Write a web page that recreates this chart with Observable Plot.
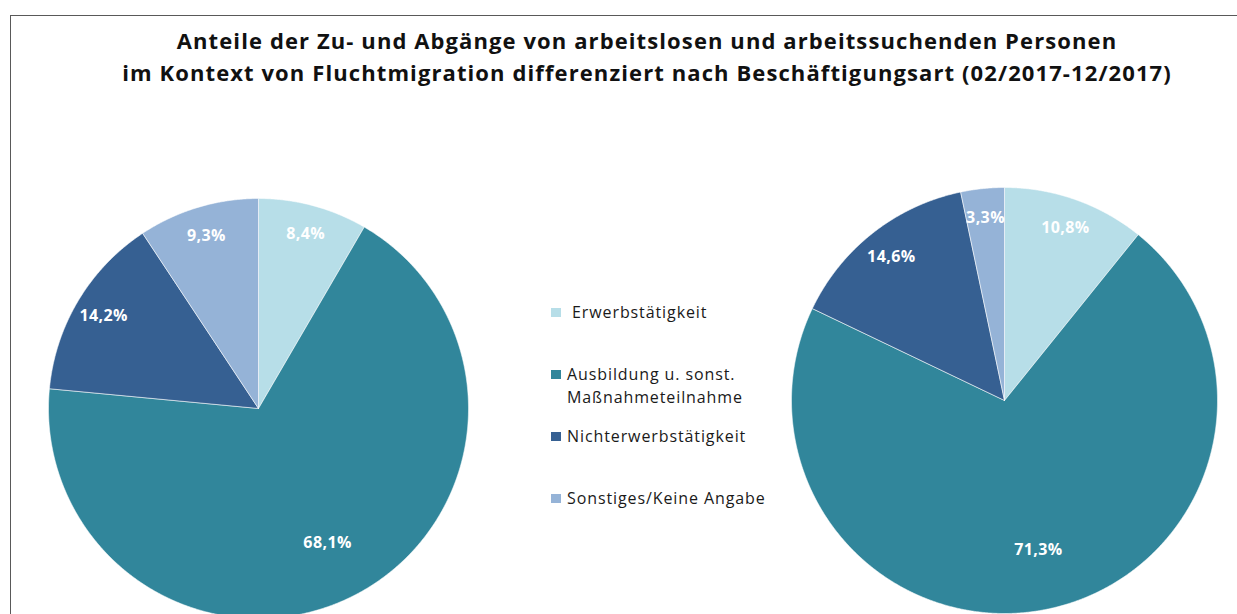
<!DOCTYPE html>
<html>
<head>
<meta charset="utf-8">
<script src="https://cdn.jsdelivr.net/npm/d3@7"></script>
<script src="https://cdn.jsdelivr.net/npm/@observablehq/plot@0.6"></script>
<style>
  html, body { margin: 0; padding: 0; background: #fff; }
  #chart { position: relative; width: 1237px; height: 614px; overflow: hidden; font-family: "Open Sans", sans-serif; background: #fff; }
  #frame { position: absolute; left: 10px; top: 15px; width: 1400px; height: 800px; border-left: 1.5px solid #595959; border-top: 1.5px solid #595959; box-sizing: border-box; }
  #title { position: absolute; left: 0; top: 24px; width: 1294px; text-align: center; font-weight: bold; font-size: 22px; letter-spacing: 1.1px; line-height: 32px; color: #111; white-space: nowrap; }
  #plot { position: absolute; left: 0; top: 0; }
  #legend { position: absolute; left: 0; top: 0; width: 1237px; height: 614px; pointer-events: none; }
  .item { position: absolute; left: 551px; display: flex; align-items: flex-start; font-size: 16px; letter-spacing: 0.9px; line-height: 23px; color: #1a1a1a; }
  .sw { width: 10px; height: 9px; margin-top: 7px; margin-right: 6px; flex: none; }
</style>
</head>
<body>
<div id="chart">
  <div id="frame"></div>
  <div id="title">Anteile der Zu- und Abgänge von arbeitslosen und arbeitssuchenden Personen<br>im Kontext von Fluchtmigration differenziert nach Beschäftigungsart (02/2017-12/2017)</div>
  <div id="plot"></div>
  <div id="legend"></div>
</div>
<script>
// ---- data ----
const categories = ["Erwerbstätigkeit", "Ausbildung u. sonst. Maßnahmeteilnahme", "Nichterwerbstätigkeit", "Sonstiges/Keine Angabe"];
const legendLabels = [" Erwerbstätigkeit", "Ausbildung u. sonst.<br>Maßnahmeteilnahme", "Nichterwerbstätigkeit", "Sonstiges/Keine Angabe"];
const zugaenge = [8.4, 68.1, 14.2, 9.3];
const abgaenge = [10.8, 71.3, 14.6, 3.3];
const colors = ["#b7dee8", "#31869b", "#366092", "#95b3d7"];

// ---- layout ----
const W = 1237, H = 614;
const pieLayout = [
  {name: "Zugänge", values: zugaenge, cx: 258, cy: 408, r: 210},
  {name: "Abgänge", values: abgaenge, cx: 1004, cy: 400, r: 213}
];
const legendTop = [301, 363, 425, 487];

// ---- build slice polygons & labels from data ----
const slices = [];
const labels = [];
const step = Math.PI / 720;
for (const p of pieLayout) {
  const arcs = d3.pie().sort(null).value(d => d)(p.values);
  arcs.forEach((a, i) => {
    const key = p.name + "|" + categories[i];
    slices.push({key, category: categories[i], x: p.cx, y: p.cy});
    const n = Math.max(2, Math.ceil((a.endAngle - a.startAngle) / step));
    for (let j = 0; j <= n; j++) {
      const t = a.startAngle + (a.endAngle - a.startAngle) * j / n;
      slices.push({key, category: categories[i], x: p.cx + p.r * Math.sin(t), y: p.cy - p.r * Math.cos(t)});
    }
    slices.push({key, category: categories[i], x: p.cx, y: p.cy});
    const mid = (a.startAngle + a.endAngle) / 2;
    const k = a.data > 50 ? 0.72 : 0.86;
    labels.push({
      x: p.cx + k * p.r * Math.sin(mid),
      y: p.cy - k * p.r * Math.cos(mid),
      text: a.data.toFixed(1).replace(".", ",") + "%"
    });
  });
}

const chart = Plot.plot({
  width: W,
  height: H,
  margin: 0,
  style: {background: "transparent", overflow: "visible"},
  x: {domain: [0, W], range: [0, W], axis: null},
  y: {domain: [0, H], range: [0, H], axis: null},
  color: {domain: categories, range: colors},
  marks: [
    Plot.line(slices, {x: "x", y: "y", z: "key", fill: "category", stroke: "white", strokeWidth: 0.8, strokeOpacity: 0.7, curve: "linear"}),
    Plot.text(labels, {x: "x", y: "y", text: "text", fill: "white", fontSize: 16, fontWeight: "bold", fontFamily: "Open Sans, sans-serif", style: {letterSpacing: "0.4px"}})
  ]
});
chart.querySelectorAll("text").forEach(t => t.setAttribute("letter-spacing", "0.4"));
document.getElementById("plot").appendChild(chart);

// ---- legend ----
const legend = document.getElementById("legend");
categories.forEach((c, i) => {
  const item = document.createElement("div");
  item.className = "item";
  item.style.top = legendTop[i] + "px";
  item.innerHTML = `<span class="sw" style="background:${colors[i]}"></span><span style="white-space:pre">${legendLabels[i]}</span>`;
  legend.appendChild(item);
});
</script>
</body>
</html>
